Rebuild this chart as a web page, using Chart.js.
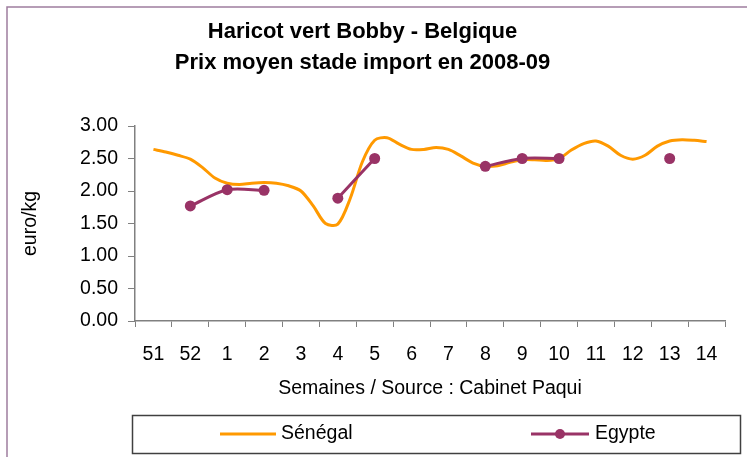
<!DOCTYPE html>
<html>
<head>
<meta charset="utf-8">
<script src="https://cdn.jsdelivr.net/npm/chart.js@4.4.1/dist/chart.umd.min.js"></script>
<style>
  html, body { margin: 0; padding: 0; background: #fff; }
  #wrap { width: 747px; height: 457px; position: relative; }
</style>
</head>
<body>
<div id="wrap"><canvas id="chart" width="747" height="457"></canvas></div>
<script>
// Weeks (2008-09 campaign)
const weeks = ['51', '52', '1', '2', '3', '4', '5', '6', '7', '8', '9', '10', '11', '12', '13', '14'];

// Egypte: weekly average price (euro/kg), null = no quote
const egypte = [null, 1.77, 2.02, 2.01, null, 1.89, 2.50, null, null, 2.38, 2.50, 2.50, null, null, 2.50, null];

// Sénégal: price read every third of a week, from week 51 to week 14
const senegal = [
  2.64, 2.60, 2.55, 2.49, 2.36, 2.20, 2.12, 2.10, 2.12, 2.13, 2.12, 2.08,
  2.00, 1.77, 1.50, 1.49, 1.88, 2.45, 2.78, 2.82, 2.72, 2.64, 2.64, 2.67,
  2.64, 2.54, 2.43, 2.38, 2.39, 2.44, 2.48, 2.48, 2.47, 2.50, 2.63, 2.73,
  2.77, 2.69, 2.55, 2.49, 2.55, 2.69, 2.77, 2.79, 2.78, 2.76
];
const senegalPos = senegal.map((v, i) => i / 3); // position in week index

const yTicks = [0, 0.5, 1, 1.5, 2, 2.5, 3];

const COLORS = {
  senegal: '#FF9900',
  egypte: '#993366',
  axis: '#808080',
  frame: '#9E7E9E',
  text: '#000000'
};
const FONT = "'Liberation Sans', Arial, sans-serif";
const TXT = 19.5;

// Frame + legend box drawn below the plot
const framePlugin = {
  id: 'frameLegend',
  afterDraw(chart) {
    const ctx = chart.ctx;
    ctx.save();
    // outer frame (only left/top visible in the crop)
    ctx.strokeStyle = COLORS.frame;
    ctx.lineWidth = 1.5;
    ctx.beginPath();
    ctx.moveTo(7, chart.height);
    ctx.lineTo(7, 7);
    ctx.lineTo(chart.width, 7);
    ctx.stroke();

    // legend box
    ctx.strokeStyle = '#404040';
    ctx.lineWidth = 1.5;
    ctx.strokeRect(132.5, 415.5, 608, 38);

    const ly = 434;
    ctx.font = TXT + 'px ' + FONT;
    ctx.fillStyle = COLORS.text;
    ctx.textBaseline = 'middle';

    ctx.strokeStyle = COLORS.senegal;
    ctx.lineWidth = 3;
    ctx.beginPath(); ctx.moveTo(220, ly); ctx.lineTo(276, ly); ctx.stroke();
    ctx.fillText(chart.data.datasets[0].label, 281, ly);

    ctx.strokeStyle = COLORS.egypte;
    ctx.beginPath(); ctx.moveTo(531, ly); ctx.lineTo(589, ly); ctx.stroke();
    ctx.fillStyle = COLORS.egypte;
    ctx.beginPath(); ctx.arc(560, ly, 5, 0, Math.PI * 2); ctx.fill();
    ctx.fillStyle = COLORS.text;
    ctx.fillText(chart.data.datasets[1].label, 595, ly);
    ctx.restore();
  }
};

new Chart(document.getElementById('chart'), {
  type: 'line',
  data: {
    labels: weeks,
    datasets: [
      {
        label: 'Sénégal',
        xAxisID: 'xs',
        data: senegal.map((v, i) => ({ x: senegalPos[i], y: v })),
        borderColor: COLORS.senegal,
        backgroundColor: COLORS.senegal,
        borderWidth: 3,
        pointRadius: 0,
        tension: 0.3,
        order: 2
      },
      {
        label: 'Egypte',
        xAxisID: 'x',
        data: egypte,
        borderColor: COLORS.egypte,
        backgroundColor: COLORS.egypte,
        borderWidth: 3,
        pointRadius: 5.5,
        pointBorderWidth: 0,
        spanGaps: false,
        tension: 0.3,
        order: 1
      }
    ]
  },
  options: {
    responsive: false,
    animation: false,
    layout: { padding: { top: 0, left: 0, right: 22, bottom: 57 } },
    plugins: {
      legend: { display: false },
      tooltip: { enabled: false },
      title: {
        display: true,
        text: ['Haricot vert Bobby - Belgique', 'Prix moyen stade import en 2008-09'],
        color: COLORS.text,
        font: { family: FONT, size: 22, weight: 'bold', lineHeight: 31 / 22 },
        padding: { top: 16.5, bottom: 47.5 }
      }
    },
    scales: {
      x: {
        type: 'category',
        offset: true,
        grid: {
          offset: true,
          drawOnChartArea: false,
          drawTicks: true,
          tickLength: 6,
          tickColor: COLORS.axis
        },
        border: { color: COLORS.axis, width: 1.5 },
        ticks: { color: COLORS.text, font: { family: FONT, size: TXT }, padding: 16, maxRotation: 0, autoSkip: false },
        title: {
          display: true,
          text: 'Semaines / Source : Cabinet Paqui',
          color: COLORS.text,
          font: { family: FONT, size: TXT },
          padding: { top: 2, bottom: 0 }
        },
        afterFit(scale) { scale.height = 79; }
      },
      xs: {
        type: 'linear',
        display: false,
        min: -0.5,
        max: weeks.length - 0.5
      },
      y: {
        min: 0,
        max: 3,
        afterBuildTicks(scale) { scale.ticks = yTicks.map(v => ({ value: v })); },
        grid: {
          drawOnChartArea: false,
          tickLength: 7,
          tickColor: COLORS.axis
        },
        border: { color: COLORS.axis, width: 1.5 },
        ticks: {
          color: COLORS.text,
          font: { family: FONT, size: TXT },
          padding: 10,
          callback: v => Number(v).toFixed(2)
        },
        title: {
          display: true,
          text: 'euro/kg',
          color: COLORS.text,
          font: { family: FONT, size: TXT },
          padding: { top: 19, bottom: 0 }
        },
        afterFit(scale) { scale.width = 135; }
      }
    }
  },
  plugins: [framePlugin]
});
</script>
</body>
</html>
